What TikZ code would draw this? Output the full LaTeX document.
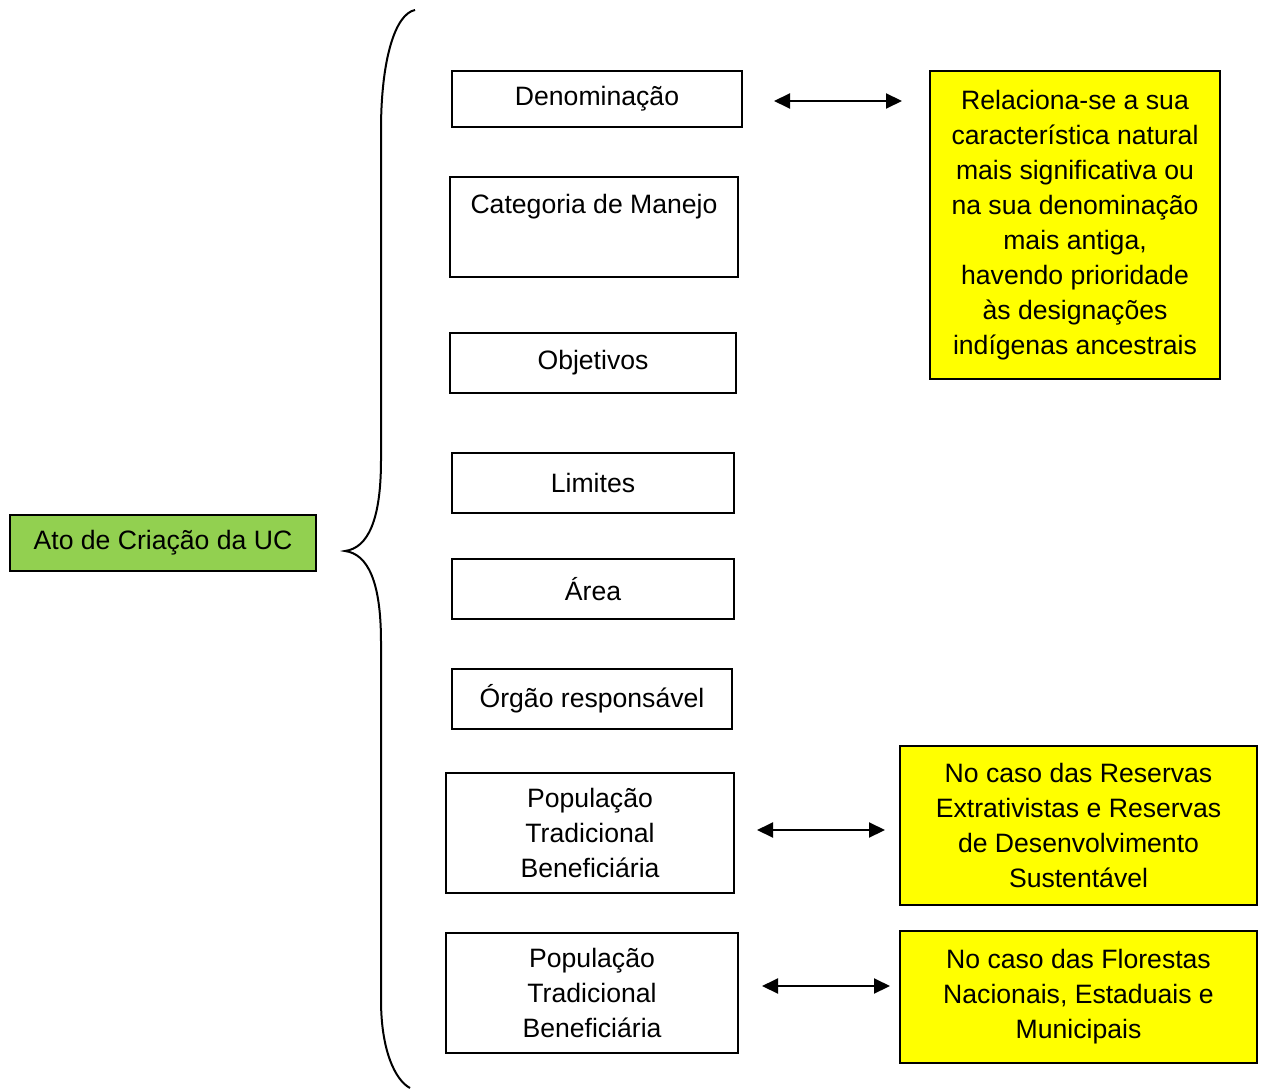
\documentclass[tikz,border=0pt]{standalone}
\usepackage{fontspec}
\setmainfont{Liberation Sans}
\usetikzlibrary{arrows.meta}
\definecolor{atogreen}{HTML}{92D050}
\definecolor{noteyellow}{HTML}{FFFF00}

\begin{document}
\begin{tikzpicture}[x=0.5pt, y=-0.5pt, line width=1pt,
    font=\fontsize{13.3}{17.5}\selectfont,
    box/.style={draw, inner sep=0pt, align=center},
    note/.style={draw, fill=noteyellow, inner sep=0pt, align=center},
    link/.style={{Triangle[length=8pt,width=7.5pt]}-{Triangle[length=8pt,width=7.5pt]}}]
  \useasboundingbox (0,0) rectangle (1261,1090);
  % left
  \node[box, fill=atogreen, minimum width=153pt, minimum height=28pt] (ato) at (163,543) {Ato de Criação da UC};
  \draw (415,10) .. controls (395,14) and (381,60) .. (381,130) -- (381,460)
        .. controls (381,520) and (368,548) .. (345,551)
        .. controls (368,554) and (381,582) .. (381,642) -- (381,1000)
        .. controls (381,1050) and (395,1080) .. (410,1088);
  % middle column
  \node[box, minimum width=145pt, minimum height=28pt] (denom) at (597,99) {Denominação};
  \node[box, minimum width=144pt, minimum height=50pt] (categ) at (594,227) {Categoria de Manejo\\\strut};
  \node[box, minimum width=143pt, minimum height=30pt] (objet) at (593,363) {Objetivos};
  \node[box, minimum width=141pt, minimum height=30pt] (limit) at (593,483) {Limites};
  \node[box, minimum width=141pt, minimum height=30pt] (area) at (593,589) {Área};
  \node[box, minimum width=140pt, minimum height=30pt] (orgao) at (592,699) {Órgão responsável};
  \node[box, minimum width=144pt, minimum height=60pt] (pop1) at (590,833) {População\\Tradicional\\Beneficiária};
  \node[box, minimum width=146pt, minimum height=60pt] (pop2) at (592,993) {População\\Tradicional\\Beneficiária};
  % right
  \node[note, minimum width=145pt, minimum height=154pt] (nome) at (1075,225)
    {Relaciona-se a sua\\característica natural\\mais significativa ou\\na sua denominação\\mais antiga,\\havendo prioridade\\às designações\\indígenas ancestrais};
  \node[note, minimum width=178.5pt, minimum height=79.5pt] (resex) at (1078.5,825.5)
    {No caso das Reservas\\Extrativistas e Reservas\\de Desenvolvimento\\Sustentável};
  \node[note, minimum width=178.5pt, minimum height=66pt] (flona) at (1078.5,997)
    {No caso das Florestas\\Nacionais, Estaduais e\\Municipais};
  \draw[link, shorten <=15.5pt, shorten >=13.5pt] ([yshift=-1pt]denom.east) -- ([yshift=-1pt]denom.east -| nome.west);
  \draw[link, shorten <=11pt, shorten >=7pt] ([yshift=1.5pt]pop1.east) -- ([yshift=1.5pt]pop1.east -| resex.west);
  \draw[link, shorten <=11.5pt, shorten >=4.5pt] ([yshift=3.5pt]pop2.east) -- ([yshift=3.5pt]pop2.east -| flona.west);
\end{tikzpicture}
\end{document}
